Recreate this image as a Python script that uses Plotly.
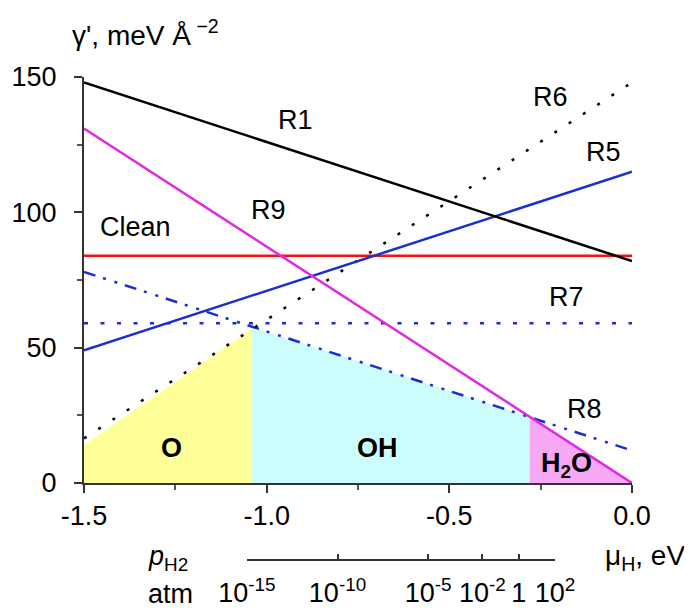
import plotly.graph_objects as go

# ---- data ----
mu_ends = [-1.5, 0.0]            # mu_H, eV
R1 = [148, 82]
R5 = [49, 115]
R6 = [16.5, 148]
R7 = [59, 59]
R8 = [78, 12]
R9 = [131, 0]
clean = [84, 84]

# phase regions (x extents and upper boundary values)
O_x = [-1.5, -1.04]
O_top = [14, 57]
OH_x = [-1.04, -0.28]
OH_top = [57.5, 24.5]
H2O_x = [-0.28, 0.0]
H2O_top = [24.5, 0]

# secondary pressure scale
p_log_ticks = [-15, -10, -5, -2, 0, 2]
p_tick_text = ["10<sup>-15</sup>", "10<sup>-10</sup>", "10<sup>-5</sup>",
               "10<sup>-2</sup>", "1", "10<sup>2</sup>"]
p_mu_span = [-1.054, -0.211]     # mu_H of p=1e-15 and p=1e2

x_ticks = [-1.5, -1.0, -0.5, 0.0]
x_tick_text = ["-1.5", "-1.0", "-0.5", "0.0"]
y_ticks = [0, 50, 100, 150]

FONT = "Liberation Sans, Arial, sans-serif"
FS = 27
BLUE = "#1a2ed0"
MAG = "#e02ae0"

fig = go.Figure()

for xs, ys, col in [(O_x, O_top, "#ffff99"), (OH_x, OH_top, "#ccfcfc"), (H2O_x, H2O_top, "#f7a8f4")]:
    fig.add_trace(go.Scatter(x=xs, y=ys, fill="tozeroy", fillcolor=col, mode="lines",
                             line=dict(width=0, color=col), showlegend=False, hoverinfo="skip"))

lines = [
    (clean, "#f01515", "solid"),
    (R7, BLUE, "4px,12.5px"),
    (R8, BLUE, "12px,8px,3px,9px,3px,8px"),
    (R6, "black", "3px,14px"),
    (R5, BLUE, "solid"),
    (R9, MAG, "solid"),
    (R1, "black", "solid"),
]
for ys, col, dash in lines:
    fig.add_trace(go.Scatter(x=mu_ends, y=ys, mode="lines",
                             line=dict(color=col, width=2.5, dash=dash),
                             showlegend=False, hoverinfo="skip"))

# invisible trace to activate the pressure axis
fig.add_trace(go.Scatter(x=[p_log_ticks[0], p_log_ticks[-1]], y=[None, None], xaxis="x2", yaxis="y",
                         mode="lines", showlegend=False, hoverinfo="skip"))

labels = [("R1", -0.92, 134, False), ("R6", -0.224, 142.6, False), ("R5", -0.079, 122.4, False),
          ("R9", -0.996, 101, False), ("Clean", -1.36, 94.4, False), ("R7", -0.18, 68.6, False),
          ("R8", -0.13, 27.3, False), ("O", -1.26, 12.8, True), ("OH", -0.698, 12.8, True),
          ("H<sub>2</sub>O", -0.18, 6.8, True)]
for txt, x, y, bold in labels:
    fig.add_annotation(x=x, y=y, xref="x", yref="y", text=f"<b>{txt}</b>" if bold else txt,
                       showarrow=False, font=dict(family=FONT, size=FS, color="black"))

# secondary axis domain from the pressure scale mu span
d0 = (p_mu_span[0] - mu_ends[0]) / (mu_ends[1] - mu_ends[0])
d1 = (p_mu_span[1] - mu_ends[0]) / (mu_ends[1] - mu_ends[0])

OFF = 8                      # browser body margin
W, H = 684, 602
L, T = 84 - OFF, 77 - OFF
R = W - (632 - OFF)
B = H - (560 - OFF)
ph = H - T - B
ydom0 = ((560 - OFF) - (483 - OFF)) / ph

def px(xp):
    return (xp - OFF - L) / (W - L - R)

def py(yp):
    return (H - B - (yp - OFF)) / ph

fig.add_annotation(x=px(70), y=py(33), xref="paper", yref="paper", xanchor="left", yanchor="middle",
                   text="γ', meV Å<sup> −2</sup>", showarrow=False, font=dict(family=FONT, size=28, color="black"))
fig.add_annotation(x=px(146), y=py(558), xref="paper", yref="paper", xanchor="left", yanchor="middle",
                   text="<i>p</i><sub>H2</sub>", showarrow=False, font=dict(family=FONT, size=FS, color="black"))
fig.add_annotation(x=px(146), y=py(594), xref="paper", yref="paper", xanchor="left", yanchor="middle",
                   text="atm", showarrow=False, font=dict(family=FONT, size=FS, color="black"))
fig.add_annotation(x=px(603), y=py(557), xref="paper", yref="paper", xanchor="left", yanchor="middle",
                   text="μ<sub>H</sub>, eV", showarrow=False, font=dict(family=FONT, size=28, color="black"))

fig.update_layout(
    width=W, height=H,
    margin=dict(l=L, r=R, t=T, b=B, autoexpand=False),
    plot_bgcolor="rgba(0,0,0,0)", paper_bgcolor="white",
    font=dict(family=FONT, size=FS, color="black"),
    xaxis=dict(range=mu_ends, domain=[0, 1], anchor="y", tickvals=x_ticks, ticktext=x_tick_text,
               automargin=False,
               showline=True, linecolor="#333", linewidth=2, ticks="outside", ticklen=8, tickwidth=2,
               tickcolor="#333", showgrid=False, zeroline=False, ticklabelstandoff=0,
               minor=dict(dtick=0.25, tick0=-1.5, ticks="outside", ticklen=5, tickwidth=1.5, tickcolor="#555")),
    yaxis=dict(range=[0, 150], domain=[ydom0, 1], anchor="x", tickvals=y_ticks, automargin=False,
               showline=True, linecolor="#333", linewidth=2, ticks="outside", ticklen=8, tickwidth=2,
               tickcolor="#333", showgrid=False, zeroline=False, ticklabelstandoff=12,
               minor=dict(dtick=25, tick0=0, ticks="outside", ticklen=5, tickwidth=1.5, tickcolor="#555")),
    xaxis2=dict(range=[p_log_ticks[0], p_log_ticks[-1]], domain=[d0, d1], anchor="free", position=0,
                automargin=False,
                tickvals=p_log_ticks, ticktext=p_tick_text, showline=True, linecolor="#333", linewidth=1.5,
                ticks="inside", ticklen=5, tickwidth=1.5, tickcolor="#333", showgrid=False, zeroline=False,
                ticklabelstandoff=9),
)

fig.write_html("out.html")
